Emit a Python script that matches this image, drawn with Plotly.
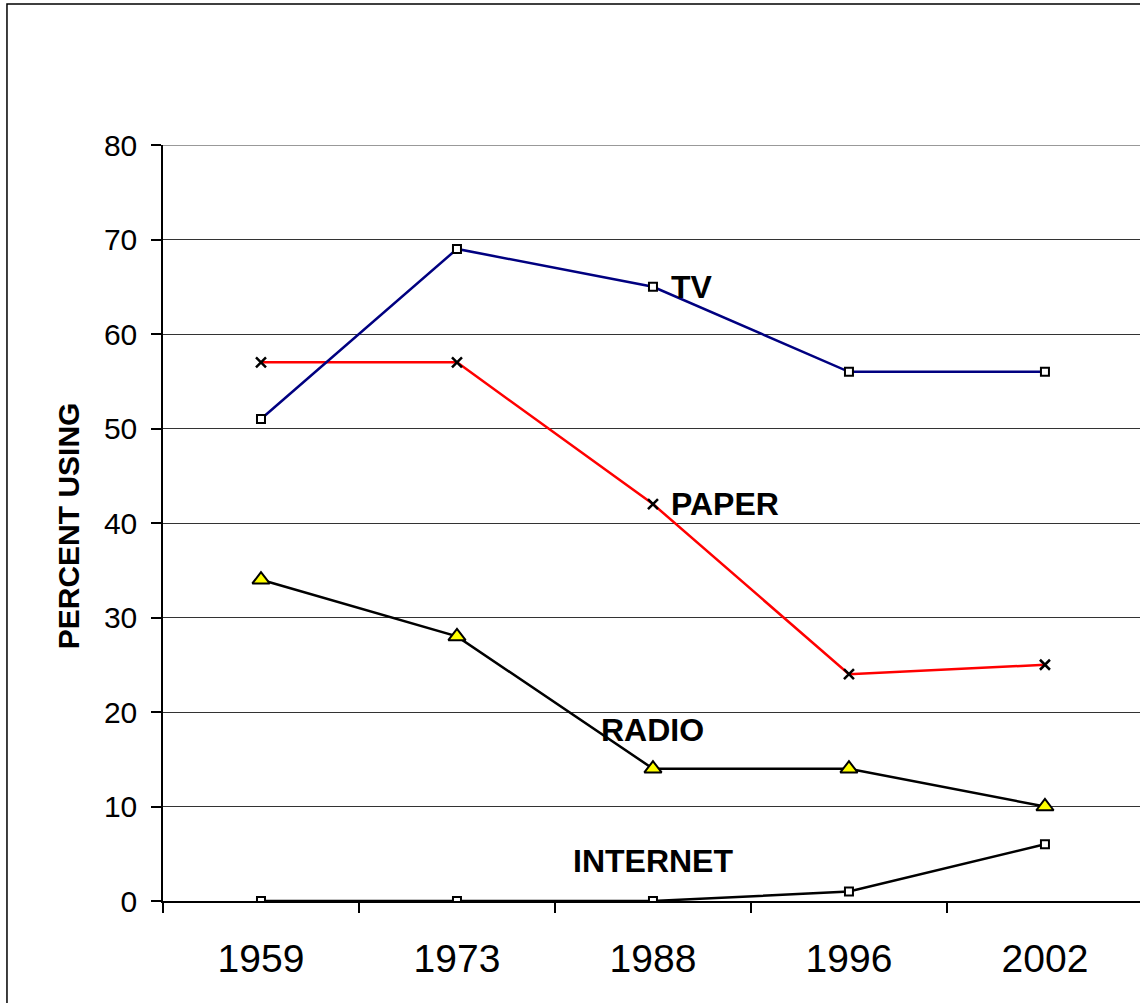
import plotly.graph_objects as go

years = ["1959", "1973", "1988", "1996", "2002"]
tv = [51, 69, 65, 56, 56]
paper = [57, 57, 42, 24, 25]
radio = [34, 28, 14, 14, 10]
internet = [0, 0, 0, 1, 6]
y_max = 80

FONT = "Arial, Liberation Sans, sans-serif"

fig = go.Figure()

fig.add_trace(go.Scatter(
    x=years, y=internet, mode="lines+markers", name="INTERNET",
    line=dict(color="black", width=2.5),
    marker=dict(symbol="square", size=8, color="white", line=dict(color="black", width=2)),
))
fig.add_trace(go.Scatter(
    x=years, y=radio, mode="lines+markers", name="RADIO",
    line=dict(color="black", width=2.5),
    marker=dict(symbol="triangle-up", size=15, color="#ffff00", line=dict(color="black", width=2)),
))
fig.add_trace(go.Scatter(
    x=years, y=paper, mode="lines+markers", name="PAPER",
    line=dict(color="#ff0000", width=2.5),
    marker=dict(symbol="x-thin", size=10, color="black", line=dict(color="black", width=2.5)),
))
fig.add_trace(go.Scatter(
    x=years, y=tv, mode="lines+markers", name="TV",
    line=dict(color="#000080", width=2.5),
    marker=dict(symbol="square", size=8, color="white", line=dict(color="black", width=2)),
))

# series labels sit next to the 1988 point (category index)
i88 = years.index("1988")
label_font = dict(family=FONT, size=32, color="black")
fig.add_annotation(x=i88, y=tv[i88], text="<b>TV</b>", showarrow=False,
                   xanchor="left", xshift=16, font=label_font)
fig.add_annotation(x=i88, y=paper[i88], text="<b>PAPER</b>", showarrow=False,
                   xanchor="left", xshift=16, font=label_font)
fig.add_annotation(x=i88, y=radio[i88], text="<b>RADIO</b>", showarrow=False,
                   xanchor="center", yshift=39, font=label_font)
fig.add_annotation(x=i88, y=internet[i88], text="<b>INTERNET</b>", showarrow=False,
                   xanchor="center", yshift=40, font=label_font)

# vertical axis title
fig.add_annotation(xref="paper", yref="paper", x=-0.097, y=0.496,
                   text="<b>PERCENT USING</b>", textangle=-90, showarrow=False,
                   xanchor="center", yanchor="middle",
                   font=dict(family=FONT, size=30, color="black"))

# top gridline at the axis maximum
fig.add_shape(type="line", xref="paper", yref="y", x0=0, x1=1, y0=y_max, y1=y_max,
              line=dict(color="#777777", width=1.5), layer="below")

# outer frame around the chart
fig.add_shape(type="rect", xref="paper", yref="paper",
              x0=-0.1597, x1=1.02, y0=-0.16, y1=1.1865,
              line=dict(color="black", width=1.5), fillcolor="rgba(0,0,0,0)")

fig.update_layout(
    width=1140, height=1003,
    margin=dict(l=163, r=0, t=145, b=102),
    paper_bgcolor="white", plot_bgcolor="white",
    showlegend=False,
    font=dict(family=FONT, color="black"),
)
fig.update_xaxes(
    type="category", range=[-0.5, 4.485],
    showline=True, linecolor="black", linewidth=1.5,
    ticks="outside", tickson="boundaries", ticklen=10, tickcolor="black", tickwidth=1.5,
    showgrid=False, tickfont=dict(family=FONT, size=39, color="black"),
    ticklabelstandoff=22,
)
fig.update_yaxes(
    range=[0, y_max], dtick=10,
    showline=True, linecolor="black", linewidth=1.5,
    ticks="outside", ticklen=10, tickcolor="black", tickwidth=1.5,
    showgrid=True, gridcolor="#333333", gridwidth=1,
    zeroline=False,
    tickfont=dict(family=FONT, size=30, color="black"),
    ticklabelstandoff=8,
)

fig.write_html("out.html")
